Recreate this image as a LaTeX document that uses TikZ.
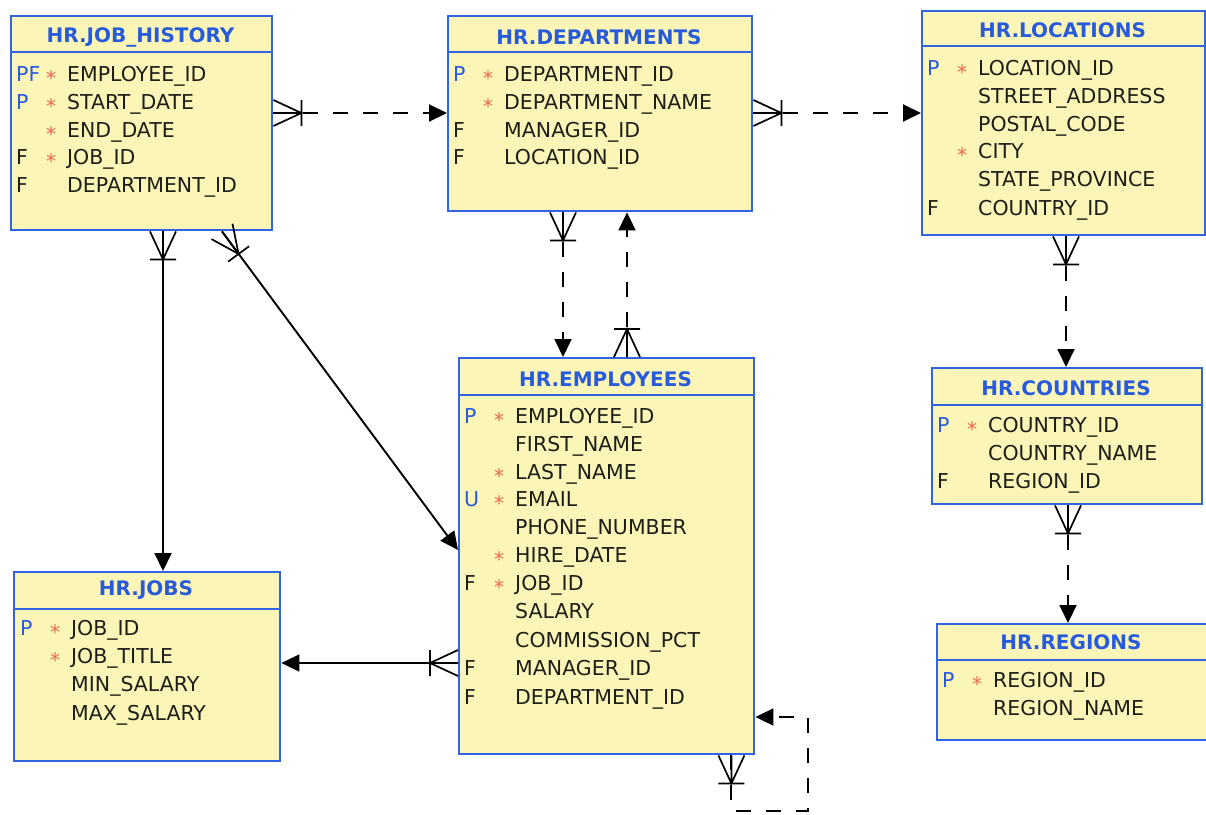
\documentclass[tikz,border=0pt]{standalone}
\usepackage{fontspec}
\setmainfont{DejaVu Sans}
\usetikzlibrary{arrows.meta,calc}
\definecolor{tfill}{RGB}{251,246,183}
\definecolor{tborder}{RGB}{50,100,225}
\definecolor{ttitle}{RGB}{40,90,220}
\definecolor{tstar}{RGB}{238,100,80}
\definecolor{ttext}{RGB}{30,30,25}
\tikzset{
  tbl/.style={draw=tborder, fill=tfill, line width=2.4pt, anchor=north west, inner sep=0pt, rectangle},
  ttl/.style={font=\fontsize{20}{21}\selectfont\bfseries, text=ttitle, inner sep=0pt},
  fieldtxt/.style={font=\fontsize{20.5}{21}\selectfont, anchor=base west, inner sep=0pt, text=ttext},
  keytxt/.style={font=\fontsize{20.5}{21}\selectfont, anchor=base west, inner sep=0pt, text=ttext},
  startxt/.style={font=\fontsize{20}{20}\selectfont, text=tstar, anchor=base, inner sep=0pt},
  conn/.style={line width=1.9pt, black},
  dsh/.style={conn, dash pattern=on 15pt off 15pt},
  arr/.style={-{Triangle[length=18pt,width=17pt]}},
  crowfoot/.pic={\draw[line width=1.7pt, solid, black] (0,-13) -- (28,0) -- (0,13) (0,0) -- (28,0) (28,-13) -- (28,13);}
}
\newcommand\Kb[1]{\textcolor{ttitle}{#1}}
% table: name, x, y, w, h, header-line y, title y, title
\newcommand\tabl[8]{%
  \node[tbl, minimum width=#4pt, minimum height=#5pt] (#1) at (#2,#3) {};
  \draw[tborder, line width=2.2pt] (#2,#6) -- ({#2+#4},#6);
  \node[ttl] (#1-t) at ({#2+#4/2},#7) {#8};
}
% field: name, table x, row y, key, star, text
\newcommand\fld[6]{%
  \node[fieldtxt] (#1) at ({#2+57},{#3+7.5}) {#6};
  \if\relax\detokenize{#4}\relax\else\node[keytxt] (#1-k) at ({#2+6},{#3+7.5}) {#4};\fi
  \if\relax\detokenize{#5}\relax\else\node[startxt] (#1-s) at ({#2+41},{#3+11}) {*};\fi
}
\begin{document}
\begin{tikzpicture}[x=1pt,y=-1pt]
\fill[white] (0,0) rectangle (1206,814);
\useasboundingbox (0,0) rectangle (1206,814);

% JOB_HISTORY
\tabl{jh}{10}{15}{261}{214}{52}{37}{HR.JOB\_HISTORY}
\fld{jh1}{10}{74}{\Kb{PF}}{*}{EMPLOYEE\_ID}
\fld{jh2}{10}{102}{\Kb{P}}{*}{START\_DATE}
\fld{jh3}{10}{130}{}{*}{END\_DATE}
\fld{jh4}{10}{157}{F}{*}{JOB\_ID}
\fld{jh5}{10}{185}{F}{}{DEPARTMENT\_ID}

% DEPARTMENTS
\tabl{dep}{447}{15}{304}{195}{52}{37}{HR.DEPARTMENTS}
\fld{dep1}{447}{74}{\Kb{P}}{*}{DEPARTMENT\_ID}
\fld{dep2}{447}{102}{}{*}{DEPARTMENT\_NAME}
\fld{dep3}{447}{130}{F}{}{MANAGER\_ID}
\fld{dep4}{447}{157}{F}{}{LOCATION\_ID}

% LOCATIONS
\tabl{loc}{921}{10}{283}{224}{46}{30}{HR.LOCATIONS}
\fld{loc1}{921}{68}{\Kb{P}}{*}{LOCATION\_ID}
\fld{loc2}{921}{96}{}{}{STREET\_ADDRESS}
\fld{loc3}{921}{124}{}{}{POSTAL\_CODE}
\fld{loc4}{921}{151}{}{*}{CITY}
\fld{loc5}{921}{179}{}{}{STATE\_PROVINCE}
\fld{loc6}{921}{208}{F}{}{COUNTRY\_ID}

% EMPLOYEES
\tabl{emp}{458}{357}{295}{396}{395}{379}{HR.EMPLOYEES}
\fld{emp1}{458}{416}{\Kb{P}}{*}{EMPLOYEE\_ID}
\fld{emp2}{458}{444}{}{}{FIRST\_NAME}
\fld{emp3}{458}{472}{}{*}{LAST\_NAME}
\fld{emp4}{458}{499}{\Kb{U}}{*}{EMAIL}
\fld{emp5}{458}{527}{}{}{PHONE\_NUMBER}
\fld{emp6}{458}{555}{}{*}{HIRE\_DATE}
\fld{emp7}{458}{583}{F}{*}{JOB\_ID}
\fld{emp8}{458}{611}{}{}{SALARY}
\fld{emp9}{458}{640}{}{}{COMMISSION\_PCT}
\fld{emp10}{458}{668}{F}{}{MANAGER\_ID}
\fld{emp11}{458}{697}{F}{}{DEPARTMENT\_ID}

% COUNTRIES
\tabl{ctry}{931}{367}{270}{136}{405}{388}{HR.COUNTRIES}
\fld{ctry1}{931}{425}{\Kb{P}}{*}{COUNTRY\_ID}
\fld{ctry2}{931}{453}{}{}{COUNTRY\_NAME}
\fld{ctry3}{931}{481}{F}{}{REGION\_ID}

% REGIONS
\tabl{reg}{936}{623}{270}{116}{660}{642}{HR.REGIONS}
\fld{reg1}{936}{680}{\Kb{P}}{*}{REGION\_ID}
\fld{reg2}{936}{708}{}{}{REGION\_NAME}

% JOBS
\tabl{jobs}{13}{571}{266}{189}{609}{590}{HR.JOBS}
\fld{jobs1}{14}{628}{\Kb{P}}{*}{JOB\_ID}
\fld{jobs2}{14}{656}{}{*}{JOB\_TITLE}
\fld{jobs3}{14}{684}{}{}{MIN\_SALARY}
\fld{jobs4}{14}{713}{}{}{MAX\_SALARY}

% connectors
\draw[dsh,arr] ($(jh.north east)+(0,98)$) -- ($(dep.north west)+(0,98)$);
\pic[rotate=0] at ($(jh.north east)+(0,98)$) {crowfoot};

\draw[dsh,arr] ($(dep.north east)+(0,98)$) -- ($(loc.north west)+(0,103)$);
\pic[rotate=0] at ($(dep.north east)+(0,98)$) {crowfoot};

\draw[conn,arr] ($(jh.south west)+(153,0)$) -- ($(jobs.north west)+(150,0)$);
\pic[rotate=-90] at ($(jh.south west)+(153,0)$) {crowfoot};

\draw[conn,arr] ($(jh.south west)+(212,0)$) -- ($(emp.north west)+(0,193)$);
\pic[rotate=-53.7] at ($(jh.south west)+(212,0)$) {crowfoot};

\draw[dsh,arr] ($(dep.south west)+(116,0)$) -- ($(emp.north west)+(105,0)$);
\pic[rotate=-90] at ($(dep.south west)+(116,0)$) {crowfoot};

\draw[dsh,arr] ($(emp.north west)+(169,0)$) -- ($(dep.south west)+(180,0)$);
\pic[rotate=90] at ($(emp.north west)+(169,0)$) {crowfoot};

\draw[dsh,arr] ($(loc.south west)+(145,0)$) -- ($(ctry.north west)+(135,0)$);
\pic[rotate=-90] at ($(loc.south west)+(145,0)$) {crowfoot};

\draw[dsh,arr] ($(ctry.south west)+(137,0)$) -- ($(reg.north west)+(132,0)$);
\pic[rotate=-90] at ($(ctry.south west)+(137,0)$) {crowfoot};

\draw[conn,arr] ($(emp.north west)+(0,306)$) -- ($(jobs.north east)+(0,92)$);
\pic[rotate=180] at ($(emp.north west)+(0,306)$) {crowfoot};

\coordinate (loopc) at (808,811);
\draw[dsh,arr] ($(emp.south east)+(-24,0)$) |- (loopc) |- ($(emp.north east)+(0,360)$);
\pic[rotate=-90] at ($(emp.south east)+(-24,0)$) {crowfoot};
\end{tikzpicture}
\end{document}
